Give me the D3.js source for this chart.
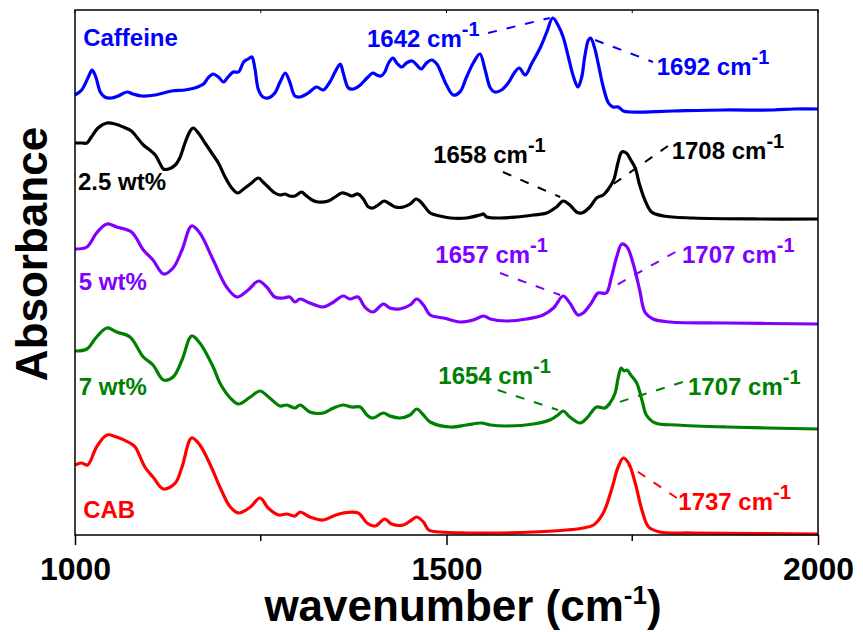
<!DOCTYPE html>
<html>
<head>
<meta charset="utf-8">
<script src="https://cdn.jsdelivr.net/npm/d3@7"></script>
<style>
  body { margin: 0; background: #fff; }
  svg { display: block; font-family: "Liberation Sans", Arial, sans-serif; font-weight: bold; }
</style>
</head>
<body>
<div id="chart"></div>
<script>
// FTIR spectra, offset vertically (absorbance, arbitrary units)
const caffeineWn = [1000,1009,1018,1023,1028,1034,1040,1049,1058,1070,1078,1090,1108,1130,1148,1161,1173,1179,1186,1193,1200,1206,1213,1220,1227,1233,1238,1242,1247,1253,1260,1269,1276,1283,1289,1296,1303,1314,1325,1334,1343,1350,1357,1361,1368,1375,1384,1393,1401,1406,1412,1417,1422,1428,1433,1440,1446,1454,1460,1466,1473,1480,1487,1494,1500,1509,1518,1527,1536,1545,1552,1559,1565,1574,1583,1592,1598,1606,1615,1626,1635,1643,1650,1657,1664,1671,1677,1682,1686,1691,1694,1699,1704,1711,1718,1724,1731,1738,1747,1805,1873,1940,1967,2000];
const caffeineAbs = [4.40,4.45,4.58,4.65,4.58,4.43,4.38,4.37,4.39,4.43,4.41,4.39,4.40,4.44,4.45,4.47,4.51,4.57,4.61,4.58,4.53,4.58,4.63,4.63,4.73,4.76,4.78,4.67,4.45,4.38,4.37,4.42,4.53,4.62,4.53,4.39,4.38,4.42,4.48,4.45,4.53,4.63,4.71,4.62,4.47,4.46,4.50,4.57,4.62,4.60,4.59,4.63,4.72,4.77,4.72,4.68,4.72,4.74,4.70,4.66,4.72,4.75,4.71,4.60,4.50,4.40,4.43,4.58,4.72,4.81,4.65,4.47,4.43,4.45,4.52,4.63,4.67,4.60,4.72,4.87,5.03,5.17,5.10,4.98,4.78,4.58,4.48,4.58,4.78,4.95,4.97,4.88,4.72,4.48,4.32,4.28,4.28,4.24,4.23,4.24,4.25,4.25,4.26,4.26];

const wt25Wn = [1000,1009,1016,1022,1031,1043,1054,1065,1076,1083,1092,1099,1108,1114,1119,1126,1135,1141,1148,1155,1159,1166,1175,1184,1193,1202,1211,1219,1227,1236,1247,1253,1260,1269,1276,1283,1289,1296,1305,1310,1319,1327,1341,1350,1359,1366,1372,1381,1388,1395,1401,1408,1416,1424,1431,1442,1451,1459,1464,1471,1478,1491,1505,1527,1545,1550,1554,1572,1594,1617,1635,1648,1657,1666,1675,1682,1693,1702,1711,1717,1725,1731,1736,1742,1748,1754,1760,1767,1776,1792,1832,1922,2000];
const wt25Abs = [3.92,3.92,3.92,3.98,4.07,4.12,4.11,4.08,4.04,3.98,3.90,3.86,3.80,3.72,3.66,3.66,3.70,3.77,3.92,4.04,4.07,4.02,3.92,3.82,3.72,3.58,3.47,3.42,3.46,3.51,3.57,3.53,3.48,3.42,3.40,3.41,3.39,3.39,3.43,3.40,3.35,3.33,3.34,3.38,3.42,3.41,3.39,3.41,3.36,3.28,3.27,3.30,3.34,3.31,3.28,3.28,3.31,3.36,3.34,3.28,3.22,3.19,3.17,3.17,3.20,3.21,3.18,3.17,3.18,3.20,3.22,3.28,3.34,3.30,3.23,3.22,3.28,3.37,3.40,3.45,3.55,3.73,3.83,3.82,3.75,3.67,3.50,3.35,3.23,3.19,3.17,3.16,3.16];

const wt5Wn = [1000,1016,1029,1043,1056,1076,1092,1105,1119,1132,1144,1157,1168,1186,1204,1218,1233,1247,1258,1269,1280,1289,1296,1303,1316,1334,1348,1361,1370,1381,1390,1401,1415,1424,1437,1451,1460,1469,1478,1496,1518,1536,1550,1559,1581,1608,1630,1644,1657,1666,1677,1684,1695,1704,1715,1722,1729,1736,1743,1751,1760,1767,1778,1801,1877,2000];
const wt5Abs = [2.86,2.88,3.02,3.11,3.08,3.03,2.85,2.75,2.61,2.67,2.85,3.09,3.02,2.75,2.48,2.38,2.45,2.54,2.48,2.38,2.37,2.38,2.33,2.36,2.32,2.28,2.33,2.39,2.36,2.38,2.28,2.23,2.31,2.27,2.26,2.30,2.36,2.30,2.20,2.17,2.13,2.15,2.19,2.16,2.14,2.16,2.20,2.27,2.39,2.32,2.20,2.22,2.32,2.42,2.42,2.58,2.78,2.91,2.88,2.72,2.45,2.23,2.16,2.13,2.12,2.11];

const wt7Wn = [1000,1016,1029,1043,1056,1074,1092,1105,1119,1132,1144,1157,1168,1186,1195,1209,1220,1236,1249,1262,1276,1285,1296,1303,1316,1334,1348,1361,1372,1384,1393,1401,1415,1424,1437,1451,1460,1469,1478,1505,1527,1547,1559,1581,1617,1639,1650,1657,1666,1680,1689,1702,1713,1720,1727,1731,1735,1739,1743,1748,1756,1763,1769,1781,1810,1877,2000];
const wt7Abs = [1.84,1.86,1.98,2.07,2.03,1.98,1.78,1.70,1.55,1.58,1.75,1.99,1.92,1.68,1.52,1.37,1.31,1.38,1.44,1.37,1.29,1.30,1.27,1.30,1.23,1.22,1.27,1.30,1.28,1.28,1.20,1.17,1.22,1.19,1.17,1.20,1.26,1.20,1.13,1.08,1.10,1.12,1.10,1.09,1.11,1.15,1.20,1.24,1.18,1.12,1.17,1.28,1.27,1.32,1.42,1.57,1.67,1.64,1.65,1.60,1.52,1.35,1.20,1.12,1.10,1.08,1.06];

const cabWn = [1000,1009,1017,1029,1043,1056,1074,1081,1094,1105,1119,1135,1144,1157,1168,1184,1195,1209,1220,1236,1249,1260,1274,1285,1296,1303,1316,1334,1348,1361,1381,1393,1404,1417,1426,1442,1453,1460,1469,1476,1491,1527,1572,1617,1662,1684,1698,1711,1722,1731,1738,1745,1754,1763,1772,1787,1832,2000];
const cabAbs = [0.70,0.72,0.70,0.88,1.00,0.98,0.92,0.88,0.68,0.58,0.46,0.52,0.68,0.97,0.90,0.67,0.48,0.28,0.22,0.28,0.37,0.27,0.20,0.21,0.19,0.23,0.18,0.15,0.19,0.22,0.22,0.12,0.09,0.16,0.11,0.10,0.15,0.18,0.13,0.05,0.03,0.02,0.02,0.03,0.05,0.07,0.10,0.22,0.45,0.68,0.77,0.72,0.52,0.25,0.08,0.03,0.02,0.01];

const seriesNames = ['Caffeine', '2.5 wt%', '5 wt%', '7 wt%', 'CAB'];
const seriesColors = ['#0000ff', '#000000', '#8000ff', '#008000', '#ff0000'];
const seriesWn = [caffeineWn, wt25Wn, wt5Wn, wt7Wn, cabWn];
const seriesAbs = [caffeineAbs, wt25Abs, wt5Abs, wt7Abs, cabAbs];
// name label anchor (wavenumber, absorbance)
const nameLabelWn = [1011, 1004, 1005, 1005, 1011];
const nameLabelAbs = [4.89, 3.45, 2.45, 1.40, 0.17];

// peak annotations: series index, label, text anchor, dashed leader from -> to
const peakSeries = [0, 0, 1, 1, 2, 2, 3, 3, 4];
const peakText = ['1642', '1692', '1658', '1708', '1657', '1707', '1654', '1707', '1737'];
const peakTextWn = [1393, 1783, 1482, 1803, 1485, 1817, 1489, 1825, 1812];
const peakTextAbs = [4.885, 4.60, 3.72, 3.76, 2.72, 2.72, 1.51, 1.40, 0.25];
const leaderFrom = [[1556, 5.02], [1700, 4.95], [1576, 3.63], [1798, 3.89], [1572, 2.62], [1808, 2.83], [1569, 1.45], [1818, 1.53], [1810, 0.37]];
const leaderTo = [[1639, 5.17], [1778, 4.73], [1653, 3.38], [1717, 3.47], [1653, 2.40], [1717, 2.45], [1650, 1.25], [1720, 1.30], [1744, 0.70]];

const xMajor = [1000, 1500, 2000];
const xMinor = [1250, 1750];

const width = 863, height = 632;
const margin = { top: 10, right: 45, bottom: 97, left: 75 };

const svg = d3.select('#chart').append('svg')
  .attr('width', width)
  .attr('height', height);

const x = d3.scaleLinear().domain([1000, 2000]).range([margin.left, width - margin.right]);
const y = d3.scaleLinear().domain([0, 5.25]).range([height - margin.bottom, margin.top]);

const line = d3.line()
  .x(d => x(d[0]))
  .y(d => y(d[1]))
  .curve(d3.curveCatmullRom.alpha(0.5));

// spectra
seriesNames.forEach((name, i) => {
  const pts = seriesWn[i].map((w, j) => [w, seriesAbs[i][j]]);
  svg.append('path')
    .datum(pts)
    .attr('d', line)
    .attr('fill', 'none')
    .attr('stroke', seriesColors[i])
    .attr('stroke-width', 3.2)
    .attr('stroke-linejoin', 'round');

  svg.append('text')
    .attr('x', x(nameLabelWn[i]))
    .attr('y', y(nameLabelAbs[i]))
    .attr('fill', seriesColors[i])
    .style('font-size', '24px')
    .text(name);
});

// peak annotations
peakText.forEach((t, i) => {
  const c = seriesColors[peakSeries[i]];
  svg.append('line')
    .attr('x1', x(leaderFrom[i][0])).attr('y1', y(leaderFrom[i][1]))
    .attr('x2', x(leaderTo[i][0])).attr('y2', y(leaderTo[i][1]))
    .attr('stroke', c)
    .attr('stroke-width', 2)
    .attr('stroke-dasharray', '9,10');

  const label = svg.append('text')
    .attr('x', x(peakTextWn[i]))
    .attr('y', y(peakTextAbs[i]))
    .attr('fill', c)
    .style('font-size', '24px');
  label.append('tspan').text(t + ' cm');
  label.append('tspan').attr('dy', -11).style('font-size', '20px').text('-1');
});

// frame
svg.append('rect')
  .attr('x', margin.left)
  .attr('y', margin.top)
  .attr('width', width - margin.left - margin.right)
  .attr('height', height - margin.top - margin.bottom)
  .attr('fill', 'none')
  .attr('stroke', '#000')
  .attr('stroke-width', 1.5);

// bottom axis
const xAxis = svg.append('g')
  .attr('transform', `translate(0,${height - margin.bottom})`)
  .call(d3.axisBottom(x).tickValues(xMajor).tickSize(10).tickFormat(d3.format('d')));
xAxis.select('.domain').remove();
xAxis.selectAll('.tick line').attr('stroke-width', 1.5);
xAxis.selectAll('.tick text')
  .attr('y', 45)
  .attr('dy', null)
  .attr('fill', '#000')
  .style('font-size', '32px')
  .style('font-family', '"Liberation Sans", Arial, sans-serif')
  .style('font-weight', 'bold');

svg.append('g')
  .attr('transform', `translate(0,${height - margin.bottom})`)
  .selectAll('line')
  .data(xMinor)
  .join('line')
  .attr('x1', d => x(d)).attr('x2', d => x(d))
  .attr('y1', 0).attr('y2', 6)
  .attr('stroke', '#000')
  .attr('stroke-width', 1.5);

// small top ticks
svg.append('g')
  .selectAll('line')
  .data(xMajor.concat(xMinor))
  .join('line')
  .attr('x1', d => x(d)).attr('x2', d => x(d))
  .attr('y1', margin.top).attr('y2', margin.top + 3)
  .attr('stroke', '#000');

// axis titles
const xTitle = svg.append('text')
  .attr('x', 463)
  .attr('y', 621)
  .attr('text-anchor', 'middle')
  .style('font-size', '44px');
xTitle.append('tspan').text('wavenumber (cm');
xTitle.append('tspan').attr('dy', -17).style('font-size', '26px').text('-1');
xTitle.append('tspan').attr('dy', 17).text(')');

svg.append('text')
  .attr('transform', 'translate(47,254) rotate(-90)')
  .attr('text-anchor', 'middle')
  .style('font-size', '44px')
  .text('Absorbance');
</script>
</body>
</html>
